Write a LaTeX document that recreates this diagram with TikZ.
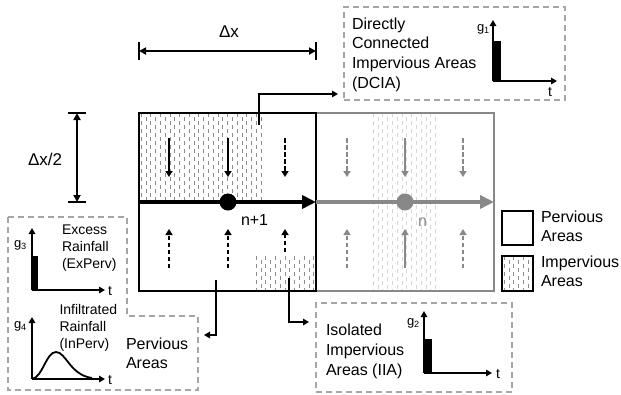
\documentclass[tikz,border=0pt]{standalone}
\usepackage{fontspec}
\setmainfont{Liberation Sans}
\usetikzlibrary{arrows.meta}
\definecolor{dgray}{HTML}{888888}
\definecolor{bgray}{HTML}{A6A6A6}
\definecolor{lgray}{HTML}{D6D6D6}
\definecolor{pgray}{HTML}{8C8C8C}
\newcommand{\impfill}[5]{%
  \begin{scope}
    \clip (#1,#2) rectangle (#3,#4);
    \foreach \k in {0,...,48}{%
      \pgfmathsetmacro\xx{#1+2.2+4.8*\k}
      \pgfmathsetmacro\ph{mod(\k,2)*4}
      \draw[#5, line width=0.9pt, dash pattern=on 4pt off 4pt, dash phase=\ph pt] (\xx,#2) -- (\xx,#4);
    }
  \end{scope}}
\begin{document}
\begin{tikzpicture}[x=1pt,y=-1pt,
  every node/.style={inner sep=0pt, outer sep=0pt},
  arr/.style={line width=2.3pt, -{Triangle[length=6pt,width=7pt]}},
  darr/.style={arr, dash pattern=on 4.5pt off 2.5pt},
  conn/.style={line width=2pt, -{Triangle[length=6pt,width=6.5pt]}},
  axis/.style={line width=1.8pt, -{Triangle[length=6pt,width=6.5pt]}},
  dbox/.style={draw=bgray, line width=1.5pt, dash pattern=on 6pt off 4pt},
  big/.style={font=\fontsize{16}{19.6}\selectfont, align=left},
  mid/.style={font=\fontsize{14}{17}\selectfont, align=left},
  gl/.style={font=\fontsize{13}{15}\selectfont},
  tl/.style={font=\fontsize{14}{16}\selectfont},
  dim/.style={font=\fontsize{17}{20}\selectfont},
  bar/.style={fill=black},
]
\useasboundingbox (0,0) rectangle (621,394);

% impervious fills
\impfill{139}{113}{265}{202}{pgray}
\impfill{254}{256}{316}{291}{pgray}
\impfill{371}{113}{438}{291}{lgray}
\impfill{502}{256}{533}{291}{pgray}

% cells
\node[draw=dgray, line width=2pt, minimum width=178pt, minimum height=178pt] (cellR) at (405,202) {};
\node[draw=black, line width=2.2pt, minimum width=177pt, minimum height=178pt] (cellL) at (227.5,202) {};

% small vertical arrows, left cell
\coordinate (a1t) at (169,138); \coordinate (a1b) at (169,177);
\coordinate (a2t) at (228,138); \coordinate (a2b) at (228,177);
\coordinate (a3t) at (285,138); \coordinate (a3b) at (285,177);
\draw[arr] (a1t) -- (a1b);
\draw[arr] (a2t) -- (a2b);
\draw[darr] (a3t) -- (a3b);
\coordinate (b1s) at (169,268); \coordinate (b1e) at (169,229);
\coordinate (b2s) at (228,268); \coordinate (b2e) at (228,229);
\coordinate (b3s) at (285,252); \coordinate (b3e) at (285,229);
\draw[darr] (b1s) -- (b1e);
\draw[darr] (b2s) -- (b2e);
\draw[darr] (b3s) -- (b3e);

% small vertical arrows, right cell
\coordinate (c1t) at (347,138); \coordinate (c1b) at (347,177);
\coordinate (c2t) at (405,138); \coordinate (c2b) at (405,177);
\coordinate (c3t) at (463,138); \coordinate (c3b) at (463,177);
\draw[darr, dgray] (c1t) -- (c1b);
\draw[arr, dgray] (c2t) -- (c2b);
\draw[darr, dgray] (c3t) -- (c3b);
\coordinate (d1s) at (347,268); \coordinate (d1e) at (347,229);
\coordinate (d2s) at (405,268); \coordinate (d2e) at (405,229);
\coordinate (d3s) at (463,268); \coordinate (d3e) at (463,229);
\draw[darr, dgray] (d1s) -- (d1e);
\draw[arr, dgray] (d2s) -- (d2e);
\draw[darr, dgray] (d3s) -- (d3e);

% main flow arrows
\draw[line width=4pt, dgray, -{Triangle[length=14pt,width=13pt]}] (cellR.west) -- (cellR.east);
\draw[line width=4pt, black, -{Triangle[length=14pt,width=13pt]}] (cellL.west) -- (cellL.east);
\node[circle, fill=black, minimum size=17pt] (nL) at (228,202) {};
\node[circle, fill=dgray, minimum size=17pt] (nR) at (405,202) {};
\node[font=\fontsize{16}{19}\selectfont, anchor=base west] (nLlab) at (241,225) {n+1};
\node[font=\fontsize{16}{19}\selectfont, anchor=base west, text=dgray] (nRlab) at (418,226.7) {n};

% dimension lines
\coordinate (dxL) at (139,51); \coordinate (dxR) at (316,51);
\draw[line width=2pt] (139,42) -- (139,60);
\draw[line width=2pt] (316,42) -- (316,60);
\draw[line width=2pt, {Triangle[length=7pt,width=7pt]}-{Triangle[length=7pt,width=7pt]}] (dxL) -- (dxR);
\node[dim, anchor=base] (dxlab) at (229,37) {Δx};
\coordinate (dyT) at (77,113); \coordinate (dyB) at (77,202);
\draw[line width=2pt] (68,113) -- (86,113);
\draw[line width=2pt] (68,202) -- (86,202);
\draw[line width=2pt, {Triangle[length=7pt,width=7pt]}-{Triangle[length=7pt,width=7pt]}] (dyT) -- (dyB);
\node[dim, anchor=base west] (dylab) at (28,165.7) {Δx/2};

% DCIA box
\node[dbox, minimum width=221pt, minimum height=93pt] (dcia) at (454.5,53.5) {};
\node[big, anchor=north west] (dciatxt) at (352,17.8) {Directly\\Connected\\Impervious Areas\\(DCIA)};
\coordinate (g1o) at (493,81);
\fill[bar] (493,41) rectangle (500.5,81);
\draw[axis] (g1o) -- (493,20);
\draw[axis] (g1o) -- (557,81);
\node[gl, anchor=base west] (g1) at (477,31) {g\textsubscript{1}};
\node[tl, anchor=base west] (t1) at (548,96.7) {t};
\coordinate (dciaSrc) at (259,125);
\draw[conn, shorten >=6pt] (dciaSrc) |- ([yshift=6pt]dcia.south west);

% IIA box
\node[dbox, minimum width=196pt, minimum height=89pt] (iia) at (414,347.5) {};
\node[big, anchor=north west, font=\fontsize{16}{20}\selectfont] (iiatxt) at (326,324.2) {Isolated\\Impervious\\Areas (IIA)};
\coordinate (g2o) at (424,373);
\fill[bar] (424,339) rectangle (431.5,373);
\draw[axis] (g2o) -- (424,311);
\draw[axis] (g2o) -- (492,373);
\node[gl, anchor=base west] (g2) at (407,325) {g\textsubscript{2}};
\node[tl, anchor=base west] (t2) at (496,378) {t};
\coordinate (iiaSrc) at (289,278);
\draw[conn, shorten >=7pt] (iiaSrc) |- ([yshift=-19pt]iia.north west);

% Pervious box (L shape)
\draw[dbox] (8,217) -- (127,217) -- (127,316) -- (198,316) -- (198,390) -- (8,390) -- cycle;
\coordinate (pervIn) at (198,335);
\coordinate (pervSrc) at (216,280);
\draw[conn, shorten >=6pt] (pervSrc) |- (pervIn);
\node[mid, anchor=north west] (extxt) at (62,224.5) {Excess\\Rainfall\\(ExPerv)};
\node[mid, anchor=north west] (intxt) at (59.5,304) {Infiltrated\\Rainfall\\(InPerv)};
\node[big, anchor=north west, font=\fontsize{16}{19}\selectfont] (pvtxt) at (126,337.5) {Pervious\\Areas};
\coordinate (g3o) at (32,290);
\fill[bar] (32,256) rectangle (37.5,290);
\draw[axis] (g3o) -- (32,228);
\draw[axis] (g3o) -- (105,290);
\node[gl, anchor=base west] (g3) at (14,247) {g\textsubscript{3}};
\node[tl, anchor=base west] (t3) at (108,295) {t};
\coordinate (g4o) at (32,379);
\draw[line width=1.8pt] (g4o) .. controls (43,377) and (46,352) .. (56,352) .. controls (66,352) and (70,375) .. (92,378);
\draw[axis] (g4o) -- (32,317);
\draw[axis] (g4o) -- (105,379);
\node[gl, anchor=base west] (g4) at (14,328.5) {g\textsubscript{4}};
\node[tl, anchor=base west] (t4) at (108,384) {t};

% legend
\node[draw=black, line width=2.4pt, minimum width=31pt, minimum height=34pt] (legP) at (517.5,228) {};
\node[draw=black, line width=2.4pt, minimum width=31pt, minimum height=35pt] (legI) at (517.5,273.5) {};
\node[big, anchor=north west, font=\fontsize{16}{19.7}\selectfont] (legPt) at (541,210.5) {Pervious\\Areas};
\node[big, anchor=north west, font=\fontsize{16}{19.7}\selectfont] (legIt) at (541,255.5) {Impervious\\Areas};
\end{tikzpicture}
\end{document}
